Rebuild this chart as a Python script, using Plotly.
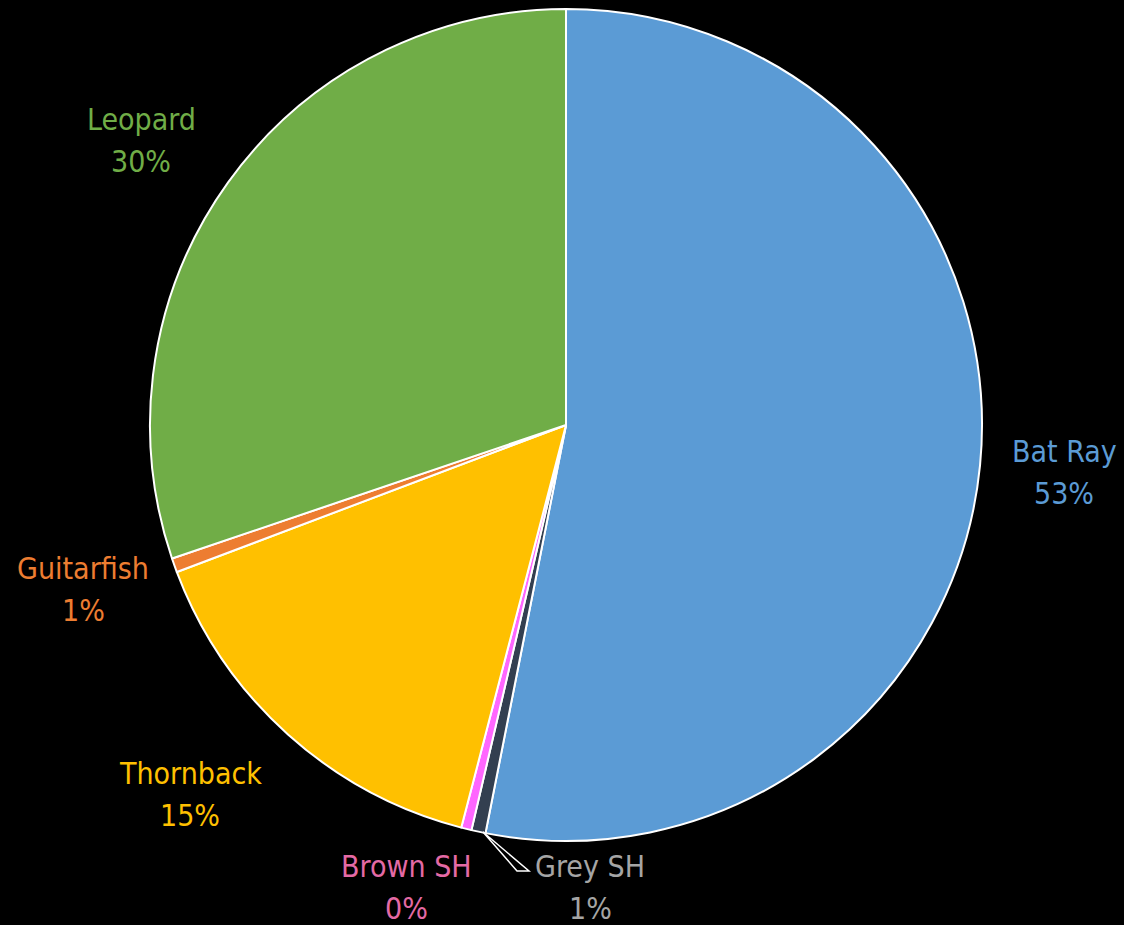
import plotly.graph_objects as go

labels = ["Bat Ray", "Grey SH", "Brown SH", "Thornback", "Guitarfish", "Leopard"]
values = [53.1, 0.55, 0.4, 15.2, 0.55, 30.2]
slice_colors = ["#5B9BD5", "#333F50", "#FF66FF", "#FFC000", "#ED7D31", "#70AD47"]
text_colors = ["#5B9BD5", "#A5A5A5", "#E46AA5", "#FFC000", "#ED7D31", "#70AD47"]

# label placement (pixel centre of the name line) -- layout only
label_px = [(1064, 451), (590, 866), (406, 866), (190, 773), (83, 568), (141, 119)]

W, H = 1124, 925
FONT = "DejaVu Sans Condensed, Liberation Sans Narrow, Arial Narrow, sans-serif"

fig = go.Figure(go.Pie(
    labels=labels,
    values=values,
    sort=False,
    direction="clockwise",
    rotation=0,
    marker=dict(colors=slice_colors, line=dict(color="white", width=2)),
    textinfo="none",
    domain=dict(x=[150 / W, 982 / W], y=[84 / H, 916 / H]),
    showlegend=False,
    hoverinfo="label+percent",
))

total = sum(values)
for lab, val, col, (px, py) in zip(labels, values, text_colors, label_px):
    pct = f"{round(val / total * 100)}%"
    fig.add_annotation(x=px / W, y=1 - py / H, xref="paper", yref="paper",
                       text=lab, showarrow=False, xanchor="center", yanchor="middle",
                       font=dict(color=col, size=30, family=FONT))
    fig.add_annotation(x=px / W, y=1 - py / H, xref="paper", yref="paper",
                       text=pct, showarrow=False, xanchor="center", yanchor="middle",
                       yshift=-42,
                       font=dict(color=col, size=30, family=FONT))

# leader line for Grey SH
fig.add_shape(type="path", xref="paper", yref="paper",
              path=f"M {483 / W} {1 - 832 / H} L {517 / W} {1 - 871 / H} L {529 / W} {1 - 871 / H} Z",
              line=dict(color="white", width=1.5))

fig.update_layout(
    width=W, height=H,
    paper_bgcolor="black", plot_bgcolor="black",
    margin=dict(l=0, r=0, t=0, b=0),
    showlegend=False,
)

fig.write_html("out.html", config={"displayModeBar": False},
               post_script="document.body.style.margin='0';document.body.style.background='black';")
